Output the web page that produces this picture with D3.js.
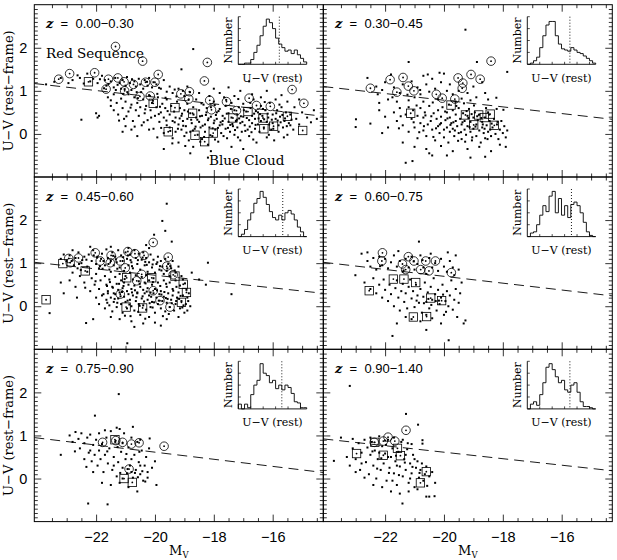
<!DOCTYPE html>
<html>
<head>
<meta charset="utf-8">
<script src="https://cdn.jsdelivr.net/npm/d3@7"></script>
<style>
body { margin: 0; background: #fff; }
text { fill: #000; }
</style>
</head>
<body>
<div id="chart"></div>
<script>
var zLabels = ["0.00\u22120.30", "0.30\u22120.45", "0.45\u22120.60", "0.60\u22120.75", "0.75\u22120.90", "0.90\u22121.40"];
var xTicks = [-22, -20, -18, -16];
var yTicks = [0, 1, 2];

// colour cut (dashed line) at the bright and faint ends of the plot
var cutBright = [1.17, 1.10, 1.02, 1.02, 0.95, 0.92];
var cutFaint = [0.41, 0.34, 0.30, 0.24, 0.14, 0.18];

// inset histograms, counts per bin, and the bin of the dotted divide
var hist1 = [0, 0, 1, 1, 4, 10, 16, 24, 32, 38, 35, 30, 22, 17, 14, 11, 12, 9, 12, 8, 5, 2];
var hist2 = [0, 1, 3, 6, 14, 24, 33, 36, 36, 24, 17, 13, 12, 11, 14, 12, 10, 9, 7, 5, 3, 1];
var hist3 = [0, 2, 6, 14, 20, 28, 32, 38, 33, 27, 21, 16, 14, 18, 14, 20, 22, 19, 14, 8, 4, 0];
var hist4 = [0, 3, 4, 10, 18, 26, 21, 34, 38, 20, 32, 18, 26, 16, 27, 29, 26, 20, 12, 4, 1, 0];
var hist5 = [4, 0, 4, 1, 12, 20, 24, 38, 30, 28, 22, 24, 17, 20, 16, 20, 18, 13, 6, 5, 1, 1];
var hist6 = [0, 4, 6, 3, 12, 22, 35, 38, 33, 27, 22, 24, 16, 14, 20, 22, 14, 6, 2, 2, 1, 0];
var histCut = [13.2, 13.7, 14.3, 14.2, 14.0, 13.7];

// galaxies [M_V, U-V]
var dots1 = [[-23.7,1.15],[-23.2,1.3],[-22.8,1.25],[-22.55,1.3],[-22.3,1.4],[-22.2,1.22],[-22.1,1.28],[-21.95,1.18],[-21.8,1.35],[-21.7,1.25],[-21.65,1.12],[-21.5,1.22],[-21.4,1.08],[-21.35,1.3],[-21.2,1.18],[-21.15,1.05],[-21.1,1.25],[-21.0,1.12],[-20.95,1.32],[-20.85,1.18],[-20.8,1.02],[-20.7,1.22],[-20.65,1.1],[-20.55,1.28],[-20.5,1.15],[-20.4,1.05],[-20.35,1.25],[-20.25,1.12],[-20.2,1.3],[-20.1,1.08],[-20.05,1.2],[-19.95,1.15],[-19.8,1.05],[-19.7,1.25],[-19.6,0.98],[-19.5,1.1],[-19.4,0.95],[-19.2,1.05],[-19.05,1.0],[-18.9,1.1],
[-22.5,0.33],[-22.0,0.48],[-21.95,0.38],[-21.9,0.42],[-18.7,1.97],[-16.8,1.22],[-19.1,1.5],[-17.5,1.08],[-16.2,1.0],[-15.7,0.9],[-14.6,0.55],[-14.5,0.35],[-15.4,0.2],[-21.0,0.18],[-21.4,0.55],[-21.5,0.78],
[-21.6,0.85],[-21.5,0.65],[-21.4,0.92],[-21.3,0.72],[-21.25,0.45],[-21.15,0.82],[-21.1,0.6],[-21.05,0.35],[-21.0,0.75],[-20.9,0.92],[-20.9,0.52],[-20.8,0.68],[-20.75,0.3],[-20.7,0.85],[-20.65,0.55],[-20.6,0.72],[-20.55,0.42],[-20.5,0.62],[-20.45,0.2],[-20.4,0.8],[-20.35,0.48],[-20.3,0.65],[-20.25,0.32],[-20.2,0.9],[-20.15,0.55],[-20.1,0.72],[-20.05,0.12],[-20.0,0.42],[-19.95,0.62],[-19.9,0.85],[-19.85,0.28],[-19.8,0.5],[-19.75,0.7],[-19.7,0.38],[-19.7,0.02],[-19.65,0.6],[-19.6,0.8],[-19.6,0.2],[-20.8,0.1],[-21.1,0.05],[-20.2,0.1],[-20.6,-0.05],
[-19.5,0.45],[-19.5,0.15],[-19.45,0.65],[-19.4,0.3],[-19.4,-0.1],[-19.35,0.52],[-19.3,0.05],[-19.3,0.38],[-19.25,0.75],[-19.2,0.22],[-19.2,-0.2],[-19.15,0.6],[-19.1,0.1],[-19.1,0.42],[-19.05,0.3],[-19.0,-0.05],[-19.0,0.55],[-18.95,0.18],[-18.9,0.7],[-18.9,0.35],[-18.85,-0.15],[-18.8,0.05],[-18.8,0.48],[-18.75,0.25],[-18.7,0.62],[-18.7,-0.3],[-18.65,0.12],[-18.6,0.38],[-18.6,0.8],[-18.55,-0.02],[-18.5,0.28],[-18.5,0.55],[-18.45,0.15],[-18.4,0.42],[-18.4,-0.12],[-18.35,0.68],[-18.3,0.22],[-18.3,0.05],[-18.25,0.5],[-18.2,0.32],[-18.2,-0.25],[-18.15,0.15],[-18.1,0.62],[-18.1,0.4],[-18.05,-0.05],[-18.0,0.25],[-18.0,0.75],[-17.95,0.1],[-17.9,0.5],[-17.9,0.35],[-17.85,-0.18],[-17.8,0.2],[-17.8,0.58],[-17.75,0.02],[-17.7,0.42],[-17.7,0.3],[-17.65,0.85],[-17.6,0.12],[-17.6,0.65],[-17.55,-0.1],[-17.5,0.28],[-17.5,0.48],[-17.45,0.05],[-17.4,0.38],[-17.4,0.72],[-17.35,0.18],[-17.3,-0.02],[-17.3,0.55],[-17.25,0.3],[-17.2,0.15],[-17.2,0.45],[-17.15,0.62],[-17.1,-0.15],[-17.1,0.25],[-17.05,0.05],[-17.0,0.4],[-17.0,0.7],[-16.95,0.2],[-16.9,0.52],[-16.85,0.1],[-16.8,0.32],[-16.8,-0.05],[-16.75,0.6],[-16.7,0.25],[-16.7,0.42],[-16.65,0.8],[-16.6,0.12],[-16.6,0.35],[-16.55,-0.2],[-16.5,0.5],[-16.5,0.22],[-16.45,0.05],[-16.4,0.65],[-16.4,0.3],[-16.35,0.42],[-16.3,0.15],[-16.25,0.55],[-16.2,-0.08],[-16.2,0.28],[-16.15,0.38],[-16.1,0.72],[-16.05,0.1],[-16.0,0.45],[-16.0,0.25],[-15.95,-0.15],[-15.9,0.35],[-15.85,0.55],[-15.8,0.05],[-15.8,0.2],[-15.75,0.4],[-15.7,0.62],[-15.65,0.15],[-15.6,0.3],[-15.55,0.5],[-15.5,-0.02],[-15.45,0.25],[-15.4,0.45],[-15.3,0.1],[-15.2,0.35],[-15.1,0.22],[-15.0,0.5],[-18.8,-0.45],[-18.1,-0.4],[-17.4,-0.3],[-19.7,-0.35],[-18.2,-0.55],[-17.0,-0.35],
[-18.5,0.95],[-18.15,0.88],[-17.8,0.95],[-17.3,0.88],[-17.1,1.0],[-16.7,0.92],[-16.4,0.85],[-15.9,0.8],[-15.5,0.75],[-15.1,0.8],[-19.0,0.88],[-18.0,1.05],
[-19.33,0.27],[-19.08,0.47],[-18.93,0.03],[-18.77,0.33],[-18.62,0.17],[-18.47,0.41],[-18.33,-0.07],[-18.18,0.36],[-18.04,0.13],[-17.93,0.44],[-17.77,0.27],[-17.63,0.36],[-17.52,0.14],[-17.37,0.23],[-17.22,0.33],[-17.08,0.41],[-16.93,0.07],[-16.78,0.17],[-16.63,0.47],[-16.48,0.36],[-16.33,0.58],[-16.17,0.47],[-16.03,0.33],[-15.88,0.48],[-15.73,0.27],[-15.58,0.36],[-19.57,0.53],[-19.83,0.63],[-20.07,0.77],[-20.33,0.57],[-20.58,0.83],[-20.83,0.61],[-21.07,0.93],[-21.33,1.02],[-21.58,1.16],[-20.94,0.97],[-20.47,0.97],[-19.92,0.93],[-19.64,0.84],[-19.27,0.87],[-18.86,0.79],[-18.42,0.71],[-17.97,0.67],[-17.58,0.79],[-17.17,0.81],[-16.76,0.72],[-16.27,0.74],[-15.77,0.68],[-15.26,0.62],[-14.83,0.38],[-14.7,0.27],[-19.16,0.36],[-18.69,0.45],[-18.24,0.6],[-17.84,0.53],[-17.42,0.58],[-16.98,0.55],[-16.57,0.53],
[-19.61,0.31],[-19.48,0.07],[-19.22,0.12],[-19.04,0.19],[-18.88,0.52],[-18.71,0.08],[-18.56,0.33],[-18.38,0.19],[-18.27,0.44],[-18.12,-0.03],[-17.98,0.31],[-17.86,0.14],[-17.71,0.22],[-17.56,0.47],[-17.44,0.21],[-17.28,0.09],[-17.14,0.36],[-17.03,0.28],[-16.88,0.37],[-16.72,0.04],[-16.58,0.21],[-16.43,0.46],[-16.29,0.34],[-16.12,0.22],[-15.98,0.12],[-15.83,0.31],[-15.67,0.44],[-15.52,0.18],[-15.36,0.33],[-19.79,0.14],[-19.87,0.46],[-20.13,0.38],[-20.38,0.27],[-20.69,0.17],[-20.97,0.41],[-21.22,0.31],[-19.92,-0.08],[-19.41,-0.22],[-18.97,-0.28],[-18.46,-0.18],[-17.96,-0.13],[-17.67,-0.05],[-17.18,-0.08],[-16.66,-0.13],[-16.13,-0.02],[-15.62,-0.08],[-22.63,1.36],[-22.42,1.17],[-21.87,1.27],[-21.27,1.14],[-20.78,1.27],[-20.27,1.21],[-19.86,1.07],[-19.33,1.03],[-18.81,0.97],[-20.62,0.97],[-21.03,1.04],[-21.73,1.06],[-23.42,1.21],[-22.94,1.18]];

var dots2 = [[-19.27,2.42],[-21.2,1.67],[-22.99,0.34],[-23.0,0.16],[-22.5,0.24],[-20.4,-0.5],[-21.3,-0.67],[-21.07,-0.63],[-18.88,1.67],[-17.85,1.44],[-18.6,-0.53],[-17.9,-0.3],[-22.6,1.3],[-21.8,1.38],[-22.25,0.92],[-21.75,0.85],[-20.0,1.4],[-20.15,1.42],[-20.7,1.35],[-20.55,1.38],
[-22.3,1.1],[-22.1,1.02],[-22.0,1.2],[-21.7,1.08],[-21.5,0.95],[-21.4,1.15],[-21.1,1.22],[-20.9,1.08],[-20.8,0.92],[-20.6,1.15],[-20.5,0.98],[-20.4,1.28],[-20.3,1.05],[-20.1,1.2],[-19.9,1.0],[-19.8,1.15],[-19.7,0.92],[-19.5,1.0],[-19.2,0.95],[-19.0,1.1],[-18.9,0.85],[-18.7,1.2],[-18.6,0.95],[-18.5,0.8],[-19.1,0.78],[-19.4,0.82],[-19.6,0.75],[-20.2,0.8],[-20.7,0.75],[-21.0,0.85],[-21.2,0.78],[-21.6,0.75],[-21.9,0.8],[-22.2,0.72],
[-21.7,0.5],[-21.6,0.3],[-21.5,0.6],[-21.4,0.2],[-21.3,0.45],[-21.2,0.62],[-21.2,0.05],[-21.1,0.35],[-21.05,0.55],[-21.0,0.15],[-20.9,0.42],[-20.9,-0.1],[-20.8,0.25],[-20.8,0.6],[-20.7,0.08],[-20.7,0.38],[-20.65,0.5],[-20.6,-0.05],[-20.55,0.22],[-20.5,0.65],[-20.45,0.3],[-20.4,0.1],[-20.35,0.48],[-20.3,-0.15],[-20.25,0.35],[-20.2,0.18],[-20.2,0.55],[-20.15,0.02],[-20.1,0.4],[-20.1,0.25],[-20.05,0.62],[-20.0,0.1],[-20.0,-0.08],[-19.95,0.32],[-19.9,0.5],[-19.9,0.15],[-19.85,-0.2],[-19.8,0.05],[-19.8,0.38],[-19.75,0.25],[-19.7,0.55],[-19.7,0.12],[-19.65,-0.05],[-19.6,0.3],[-19.6,0.45],[-19.55,0.18],[-19.5,0.02],[-19.5,0.6],[-19.45,0.35],[-19.4,-0.12],[-19.4,0.22],[-19.35,0.48],[-19.3,0.1],[-19.3,0.3],[-19.25,-0.02],[-19.2,0.42],[-19.2,0.18],[-19.15,0.58],[-19.1,0.05],[-19.1,0.28],[-19.05,-0.15],[-19.0,0.38],[-19.0,0.12],[-18.95,0.5],[-18.9,0.22],[-18.9,-0.05],[-18.85,0.32],[-18.8,0.08],[-18.8,0.45],[-18.75,-0.2],[-18.7,0.15],[-18.7,0.28],[-18.65,0.02],[-18.6,0.38],[-18.6,-0.1],[-18.55,0.2],[-18.5,0.5],[-18.5,0.05],[-18.45,0.3],[-18.4,-0.05],[-18.35,0.15],[-18.3,0.35],[-18.25,0.0],[-18.2,0.22],[-18.15,-0.12],[-18.1,0.1],[-18.05,0.3],[-18.0,0.02],[-17.95,0.18],[-17.9,-0.08],[-17.85,0.08],[-22.0,0.4],[-22.2,0.55],[-21.9,0.15],[-22.1,0.02],[-21.0,-0.3],[-20.6,-0.35],[-20.1,-0.28],[-19.7,-0.4],[-19.2,-0.35],[-18.8,-0.3],[-18.4,-0.4],[-18.1,-0.25],[-19.9,-0.5],[-19.1,-0.55],[-20.5,-0.45],[-21.4,-0.2],
[-19.63,0.08],[-19.37,0.27],[-19.13,0.16],[-18.87,0.41],[-18.62,0.12],[-18.38,0.24],[-19.78,0.21],[-19.04,-0.08],[-18.73,0.37],[-19.52,-0.16],[-20.27,0.13],[-20.63,0.43],[-21.03,0.27],[-21.53,0.13],[-19.96,0.52],[-19.23,0.53],[-18.46,0.45],[-18.21,0.58],[-20.38,0.73],[-19.83,0.68],[-19.32,0.71],[-18.98,0.66],[-21.24,0.91],[-20.81,1.02],[-18.22,0.84],[-17.98,0.56],
[-19.68,0.27],[-19.42,0.04],[-19.17,0.37],[-18.93,0.17],[-18.68,0.22],[-18.43,0.1],[-18.18,0.28],[-19.88,0.36],[-20.14,0.22],[-20.43,0.41],[-20.68,0.18],[-19.58,0.65],[-19.06,0.46],[-18.57,0.6],[-20.84,0.04],[-20.36,-0.07],[-19.28,-0.18],[-18.52,-0.12],[-21.47,0.41],[-20.93,0.66]];

var dots3 = [[-19.6,2.38],[-19.75,1.98],[-20.03,1.66],[-19.43,1.5],[-18.2,1.01],[-17.4,0.28],[-18.27,0.5],[-23.58,-0.16],[-22.34,-0.39],[-20.94,-0.86],[-19.65,1.75],[-20.3,1.42],[-18.75,0.78],[-18.5,0.62],
[-23.1,1.2],[-23.0,1.05],[-22.9,1.18],[-22.75,0.95],[-22.7,1.12],[-22.6,1.25],[-22.5,1.0],[-22.4,1.15],[-22.3,0.92],[-22.25,1.2],[-22.15,1.05],[-22.1,1.3],[-22.0,0.98],[-21.95,1.15],[-21.9,0.88],[-21.8,1.22],[-21.75,1.05],[-21.7,0.95],[-21.65,1.32],[-21.6,1.12],[-21.55,0.85],[-21.5,1.05],[-21.45,1.25],[-21.4,0.95],[-21.35,1.15],[-21.3,1.02],[-21.25,1.3],[-21.2,0.9],[-21.15,1.18],[-21.1,1.05],[-21.05,0.82],[-21.0,1.25],[-20.95,1.1],[-20.9,0.95],[-20.85,1.2],[-20.8,1.02],[-20.75,0.88],[-20.7,1.3],[-20.65,1.12],[-20.6,0.98],[-20.55,1.22],[-20.5,0.85],[-20.45,1.08],[-20.4,1.25],[-20.35,0.95],[-20.3,1.12],[-20.25,0.8],[-20.2,1.02],[-20.15,1.2],[-20.1,0.9],[-20.05,1.08],[-20.0,0.78],[-19.95,0.98],[-19.9,1.15],[-19.85,0.85],[-19.8,1.05],[-19.75,0.92],[-19.7,0.75],[-19.65,1.1],[-19.6,0.82],[-19.55,0.98],[-19.5,0.7],[-19.45,0.88],[-19.4,1.05],[-19.3,0.78],[-19.2,0.92],[-19.1,0.7],[-22.2,1.38],[-21.5,1.38],[-20.9,1.35],[-20.2,1.35],[-22.8,1.3],[-23.2,1.1],
[-22.9,0.6],[-22.8,0.78],[-22.7,0.45],[-22.55,0.7],[-22.4,0.55],[-22.3,0.8],[-22.2,0.35],[-22.15,0.65],[-22.05,0.5],[-22.0,0.75],[-21.9,0.4],[-21.85,0.6],[-21.75,0.28],[-21.7,0.7],[-21.65,0.5],[-21.6,0.35],[-21.55,0.62],[-21.5,0.8],[-21.45,0.45],[-21.4,0.3],[-21.35,0.68],[-21.3,0.52],[-21.25,0.38],[-21.2,0.75],[-21.15,0.6],[-21.1,0.42],[-21.05,0.55],[-21.0,0.7],[-20.95,0.35],[-20.9,0.5],[-20.85,0.78],[-20.8,0.4],[-20.75,0.62],[-20.7,0.48],[-20.65,0.72],[-20.6,0.3],[-20.55,0.58],[-20.5,0.45],[-20.45,0.68],[-20.4,0.38],[-20.35,0.55],[-20.3,0.72],[-20.25,0.42],[-20.2,0.6],[-20.15,0.32],[-20.1,0.5],[-20.05,0.65],[-20.0,0.4],[-19.9,0.55],[-19.8,0.35],[-19.7,0.6],[-19.6,0.45],[-19.5,0.55],[-19.4,0.4],[-19.3,0.6],[-19.15,0.48],[-19.05,0.62],[-23.2,0.55],[-23.1,0.3],[-22.65,0.2],
[-22.0,0.2],[-21.9,0.05],[-21.8,0.25],[-21.7,-0.05],[-21.65,0.15],[-21.6,0.3],[-21.55,0.02],[-21.5,0.2],[-21.45,-0.12],[-21.4,0.1],[-21.35,0.28],[-21.3,-0.02],[-21.25,0.18],[-21.2,0.32],[-21.15,0.05],[-21.1,-0.15],[-21.05,0.22],[-21.0,0.1],[-20.95,-0.05],[-20.9,0.28],[-20.85,0.15],[-20.8,0.0],[-20.75,0.25],[-20.7,-0.1],[-20.65,0.12],[-20.6,0.32],[-20.55,0.05],[-20.5,-0.2],[-20.45,0.18],[-20.4,0.02],[-20.35,0.3],[-20.3,-0.08],[-20.25,0.15],[-20.2,0.25],[-20.15,-0.02],[-20.1,0.1],[-20.05,0.3],[-20.0,-0.15],[-19.95,0.2],[-19.9,0.05],[-19.85,0.28],[-19.8,-0.05],[-19.75,0.12],[-19.7,0.22],[-19.65,-0.12],[-19.6,0.08],[-19.55,0.3],[-19.5,-0.02],[-19.45,0.15],[-19.4,0.25],[-19.35,-0.1],[-19.3,0.05],[-19.25,0.2],[-19.2,0.32],[-19.15,-0.05],[-19.1,0.12],[-19.05,0.25],[-19.0,-0.15],[-18.95,0.05],[-18.9,0.2],[-18.85,0.3],[-18.8,0.0],[-21.2,-0.3],[-20.8,-0.35],[-20.4,-0.4],[-20.0,-0.38],[-19.6,-0.3],[-19.2,-0.25],[-20.7,-0.48],[-19.8,-0.45],[-21.5,-0.25],[-20.2,-0.25],[-22.1,-0.3],[-18.9,-0.1],
[-21.43,0.43],[-21.17,0.23],[-20.93,0.13],[-20.68,0.37],[-20.42,0.23],[-20.18,0.07],[-19.93,0.37],[-19.68,0.33],[-19.43,0.07],[-19.18,0.17],[-18.93,0.38],[-20.57,-0.13],[-20.08,-0.03],[-19.57,0.17],[-19.07,-0.03],[-21.07,0.47],[-20.32,0.53],[-19.82,0.47],[-21.78,0.87],[-21.28,0.87],[-20.78,0.93],[-20.28,0.96],[-19.78,0.83],[-22.47,1.07],[-21.97,1.13],[-21.42,1.17],[-20.92,1.18],[-20.42,1.13],[-19.92,1.02],[-19.48,0.93],[-22.63,0.88],[-21.87,0.93],[-19.27,0.45],[-18.98,0.53],[-21.63,0.47],[-22.37,0.43],
[-21.62,0.08],[-21.37,0.17],[-21.12,0.33],[-20.87,0.04],[-20.63,0.21],[-20.37,0.11],[-20.13,0.22],[-19.87,0.13],[-19.63,0.19],[-19.38,0.36],[-19.13,0.24],[-18.87,0.12],[-21.28,0.08],[-20.78,0.32],[-20.28,0.34],[-19.78,0.27],[-19.28,0.12],[-21.02,-0.22],[-20.52,0.01],[-20.03,0.09],[-19.53,-0.18],[-19.03,0.02],[-20.83,-0.23],[-20.33,-0.29],[-19.73,-0.23],[-22.83,1.05],[-22.58,0.98],[-22.33,1.08],[-22.08,1.18],[-21.83,1.1],[-21.58,0.98],[-21.33,1.09],[-21.08,1.14],[-20.83,1.07],[-20.58,1.07],[-20.33,1.03],[-20.08,0.97],[-19.83,0.93],[-19.58,0.88],[-19.33,0.83],[-22.02,0.58],[-21.53,0.56],[-21.03,0.63],[-20.52,0.52],[-20.07,0.56],[-19.62,0.52],[-22.52,0.84],[-21.22,0.52]];

var dots4 = [[-20.85,1.5],[-21.75,-0.69],[-19.84,-0.79],[-19.33,-0.4],[-19.27,-0.33],[-23.01,0.72],[-19.87,1.25],[-22.8,1.22],[-22.6,1.25],[-21.6,-0.4],[-20.6,-0.55],
[-22.6,1.05],[-22.5,0.92],[-22.4,1.12],[-22.3,0.85],[-22.2,1.15],[-22.1,0.95],[-22.0,1.1],[-21.9,0.88],[-21.8,1.02],[-21.7,1.18],[-21.6,0.92],[-21.5,1.05],[-21.4,0.8],[-21.3,1.1],[-21.2,0.9],[-21.1,1.15],[-21.0,0.85],[-20.9,0.98],[-20.8,1.18],[-20.7,0.9],[-20.6,0.75],[-20.5,1.12],[-20.4,0.9],[-20.3,1.0],[-20.2,0.82],[-20.1,1.1],[-20.0,0.92],[-19.9,0.8],[-19.8,1.05],[-19.7,0.9],[-19.65,0.72],[-19.6,1.18],[-21.55,1.28],[-20.45,1.22],[-19.5,0.85],
[-22.7,0.55],[-22.5,0.4],[-22.4,0.65],[-22.3,0.3],[-22.2,0.5],[-22.1,0.2],[-22.05,0.62],[-22.0,0.38],[-21.9,0.12],[-21.85,0.5],[-21.8,0.28],[-21.7,0.0],[-21.65,0.42],[-21.6,0.6],[-21.55,0.2],[-21.5,-0.1],[-21.45,0.35],[-21.4,0.52],[-21.35,0.1],[-21.3,0.3],[-21.25,-0.05],[-21.2,0.45],[-21.15,0.62],[-21.1,0.18],[-21.05,0.35],[-21.0,-0.02],[-20.95,0.5],[-20.9,0.25],[-20.85,0.08],[-20.8,0.4],[-20.75,-0.15],[-20.7,0.22],[-20.65,0.55],[-20.6,0.1],[-20.55,0.32],[-20.5,-0.05],[-20.45,0.45],[-20.4,0.15],[-20.35,0.65],[-20.3,0.28],[-20.25,-0.1],[-20.2,0.38],[-20.15,0.05],[-20.1,0.2],[-20.05,0.5],[-20.0,-0.2],[-19.95,0.12],[-19.9,0.35],[-19.85,0.0],[-19.8,0.25],[-19.75,0.6],[-19.7,-0.08],[-19.65,0.15],[-19.6,0.4],[-19.55,-0.25],[-19.5,0.08],[-19.45,0.3],[-19.4,0.55],[-21.1,-0.3],[-20.8,-0.35],[-20.4,-0.28],[-20.1,-0.4],[-21.3,-0.25],[-20.6,-0.2],
[-20.93,0.13],[-20.68,0.07],[-20.43,0.03],[-20.17,0.13],[-19.93,-0.13],[-20.53,0.17],[-20.28,0.12],[-20.03,0.27],[-21.37,0.83],[-21.03,1.04],[-20.73,1.07],[-22.17,0.93]];

var dots5 = [[-21.23,1.96],[-22.04,1.46],[-23.2,0.55],[-22.27,-0.58],[-21.61,-0.6],[-19.95,-0.15],[-20.18,0.93],
[-22.9,1.0],[-22.8,0.85],[-22.7,1.08],[-22.6,0.92],[-22.55,0.7],[-22.5,1.05],[-22.4,0.82],[-22.3,0.95],[-22.25,0.6],[-22.2,1.02],[-22.15,0.4],[-22.1,0.78],[-22.05,0.55],[-22.0,0.9],[-21.95,0.3],[-21.9,0.65],[-21.85,0.45],[-21.8,0.8],[-21.75,0.15],[-21.7,0.55],[-21.65,0.95],[-21.6,0.35],[-21.55,0.7],[-21.5,1.1],[-21.45,0.2],[-21.4,0.5],[-21.35,0.85],[-21.3,0.05],[-21.25,0.38],[-21.2,1.15],[-21.15,0.62],[-21.1,0.25],[-21.05,1.05],[-21.0,0.45],[-20.95,0.12],[-20.9,0.72],[-20.85,0.3],[-20.8,0.95],[-20.75,0.02],[-20.7,0.55],[-20.65,0.2],[-20.6,0.85],[-20.55,0.38],[-20.5,0.1],[-20.45,0.65],[-20.4,-0.05],[-20.35,0.3],[-20.3,0.5],[-20.25,0.15],[-20.2,0.7],[-20.1,0.25],[-20.0,0.4],[-22.4,0.45],[-22.1,0.15],[-21.8,-0.1],[-21.5,-0.15],[-21.2,-0.1],[-20.9,-0.2],[-20.6,-0.3],[-21.1,0.0],[-21.4,0.3],[-20.8,0.15],[-20.5,0.3],[-21.7,1.12],[-21.3,1.18],[-20.75,1.2],[-22.2,0.65],[-21.9,1.05],[-21.1,0.82],[-20.5,0.9],[-20.25,0.02],[-20.8,0.45],
[-20.93,0.22],[-20.68,0.13],[-20.43,0.17],[-21.18,0.13],[-20.58,0.03],[-20.33,-0.07],[-21.62,0.63],[-21.27,0.73],[-20.97,0.57],[-20.53,0.62],[-22.72,0.63],[-22.33,0.27]];

var dots6 = [[-23.2,2.15],[-21.29,1.5],[-20.88,1.25],[-20.73,0.89],[-20.73,0.81],[-23.74,0.41],[-21.41,-0.58],[-20.32,-0.41],[-20.5,-0.42],[-20.6,-0.42],[-23.5,0.95],[-23.1,0.92],
[-23.3,0.5],[-23.2,0.3],[-23.1,0.7],[-23.0,0.45],[-22.9,0.82],[-22.85,0.2],[-22.8,0.6],[-22.7,0.9],[-22.65,0.38],[-22.6,0.72],[-22.55,0.1],[-22.5,0.55],[-22.45,0.85],[-22.4,0.3],[-22.35,0.65],[-22.3,0.0],[-22.25,0.45],[-22.2,0.98],[-22.15,0.2],[-22.1,0.75],[-22.05,0.35],[-22.0,0.58],[-21.95,-0.05],[-21.9,0.9],[-21.85,0.25],[-21.8,0.5],[-21.75,0.7],[-21.7,0.12],[-21.65,0.4],[-21.6,-0.15],[-21.55,0.62],[-21.5,0.28],[-21.45,0.85],[-21.4,0.05],[-21.35,0.45],[-21.3,0.2],[-21.25,0.68],[-21.2,-0.1],[-21.15,0.35],[-21.1,0.12],[-21.05,0.55],[-21.0,-0.2],[-20.95,0.25],[-20.9,0.4],[-20.85,0.02],[-20.8,0.2],[-20.75,0.35],[-20.7,-0.05],[-20.65,0.1],[-20.6,0.28],[-20.5,0.05],[-20.4,0.15],[-20.3,-0.1],[-23.0,0.15],[-22.7,0.02],[-22.4,-0.15],[-22.1,-0.2],[-21.8,-0.3],[-21.5,-0.35],[-21.2,-0.3],[-20.9,-0.25],[-22.2,0.6],[-22.0,0.88],[-22.5,0.95],[-21.7,0.95],[-21.4,0.9],[-21.1,0.8],[-21.9,0.5],[-21.6,0.3],[-21.3,0.55],[-21.0,0.45],[-22.8,0.35],[-21.75,-0.05],[-21.15,0.0],
[-22.43,0.63],[-22.13,0.47],[-21.87,0.13],[-21.63,0.53],[-21.33,0.37],[-21.07,0.27],[-20.83,0.13],[-21.53,0.08],[-22.27,0.23],[-21.97,0.78],[-21.23,0.82],[-20.57,-0.17]];

// circled galaxies
var circ1 = [[-23.27,1.27],[-22.90,1.40],[-22.05,1.42],[-21.66,1.04],[-21.58,1.27],[-21.26,1.30],[-21.05,1.21],[-21.03,1.00],[-20.73,1.15],[-20.51,0.87],[-20.32,1.20],[-20.00,1.20],[-19.89,1.38],[-20.16,0.88],[-21.34,2.03],[-20.42,1.69],[-18.32,1.23],[-18.22,1.66],[-19.12,0.93],[-18.83,0.98],[-18.85,0.81],[-18.14,0.78],[-17.57,0.75],[-17.23,0.54],[-16.80,0.83],[-16.55,0.66],[-16.08,0.64],[-15.34,1.03],[-14.94,0.71],[-18.08,0.56]];
var circ2 = [[-22.50,1.06],[-21.83,1.26],[-21.39,1.31],[-21.60,0.97],[-21.21,1.11],[-21.02,1.00],[-20.26,0.92],[-20.06,0.83],[-19.63,0.81],[-19.52,1.30],[-19.36,1.18],[-19.38,1.06],[-19.08,1.38],[-18.77,1.27],[-18.40,1.69]];
var circ3 = [[-22.93,1.11],[-22.60,1.12],[-22.03,1.24],[-21.49,1.18],[-20.92,1.27],[-20.68,1.22],[-20.37,1.18],[-20.06,1.48],[-19.55,1.14],[-19.60,0.93],[-20.45,0.74],[-20.62,0.59],[-19.38,0.73],[-21.52,1.01],[-21.18,1.05],[-21.86,1.05],[-21.01,0.89],[-20.06,0.36],[-19.49,-0.02],[-19.83,0.13],[-21.18,0.28],[-22.88,1.01]];
var circ4 = [[-22.09,1.24],[-21.21,1.15],[-21.02,1.05],[-21.41,0.98],[-20.62,1.05],[-20.29,1.05],[-20.51,0.82],[-19.75,0.78],[-20.79,0.85],[-21.30,0.85],[-22.11,1.05]];
var circ5 = [[-21.78,0.84],[-21.33,0.88],[-21.10,0.84],[-20.80,0.80],[-20.54,0.83],[-19.69,0.75],[-20.88,0.22]];
var circ6 = [[-21.90,0.96],[-21.29,1.12],[-21.67,0.87],[-22.06,0.87],[-22.37,0.84]];

// boxed galaxies
var sq1 = [[-22.26,1.21],[-20.06,0.71],[-19.32,0.61],[-19.55,0.05],[-18.72,0.48],[-18.64,-0.03],[-18.31,-0.18],[-18.02,0.02],[-17.35,0.37],[-16.84,0.52],[-16.30,0.12],[-15.97,0.18],[-15.50,0.41],[-14.98,0.08],[-16.33,0.37]];
var sq2 = [[-21.13,0.48],[-19.76,0.67],[-19.27,0.44],[-18.99,0.21],[-18.82,0.44],[-18.63,0.38],[-18.43,0.46],[-18.29,0.20]];
var sq3 = [[-23.70,0.15],[-23.13,0.99],[-22.37,0.82],[-18.93,0.32],[-19.04,0.51],[-19.32,0.70],[-19.10,0.09],[-20.98,-0.02],[-20.42,-0.04],[-20.11,0.66],[-20.96,0.66]];
var sq4 = [[-21.72,0.63],[-21.36,0.63],[-20.96,0.55],[-22.54,0.36],[-20.45,0.19],[-20.08,0.13],[-21.04,-0.25],[-20.59,-0.24]];
var sq5 = [[-21.05,0.00],[-20.77,-0.09],[-21.36,0.90]];
var sq6 = [[-22.97,0.58],[-22.06,0.54],[-21.48,0.53],[-21.58,0.70],[-20.60,0.16],[-20.80,-0.10],[-22.35,0.84]];

var allDots = [dots1, dots2, dots3, dots4, dots5, dots6];
var allCirc = [circ1, circ2, circ3, circ4, circ5, circ6];
var allSq = [sq1, sq2, sq3, sq4, sq5, sq6];
var allHist = [hist1, hist2, hist3, hist4, hist5, hist6];

var W = 617, H = 560;
var margin = {left: 34.3, top: 4.7};
var colW = 289, rowH = 172.3;
var serif = "'DejaVu Serif', serif";
var sans = "'Liberation Sans', Arial, sans-serif";

var x = d3.scaleLinear().domain([-24.1, -14.28]).range([0, colW]);
var y = d3.scaleLinear().domain([-1, 3]).range([rowH, 0]);

var inset = {x: 204, y: 12, w: 68.4, h: 47.6};
var hx = d3.scaleLinear().domain([0, 22]).range([0, inset.w]);
var hy = d3.scaleLinear().domain([0, 40]).range([inset.h, 0]);

var svg = d3.select("#chart").append("svg")
    .attr("width", W).attr("height", H)
    .style("display", "block");

svg.append("defs").append("clipPath").attr("id", "clip")
    .append("rect").attr("width", colW).attr("height", rowH);

var xMinor = d3.range(-24, -14.2, 0.5).filter(function(v) { return Math.abs(v % 2) > 0.01; });
var yMinor = d3.range(-0.9, 2.95, 0.1).filter(function(v) { return Math.abs(v - Math.round(v)) > 0.01; });

zLabels.forEach(function(z, i) {
    var col = i % 2, row = Math.floor(i / 2);
    var g = svg.append("g")
        .attr("transform", "translate(" + (margin.left + col * colW) + "," + (margin.top + row * rowH) + ")");

    // inward ticks on all four sides
    function addAxis(axis, tx, ty, labels) {
        var a = g.append("g").attr("transform", "translate(" + tx + "," + ty + ")").call(axis);
        a.select(".domain").remove();
        a.selectAll("line").attr("stroke", "#000").attr("stroke-width", 0.8);
        if (!labels) a.selectAll("text").remove();
        return a;
    }
    var bx = addAxis(d3.axisBottom(x).tickValues(xTicks).tickSizeInner(-7).tickSizeOuter(0).tickPadding(10)
        .tickFormat(function(d) { return "\u2212" + Math.abs(d); }), 0, rowH, row === 2);
    bx.selectAll("text").attr("font-family", sans).attr("font-size", 14.5);
    addAxis(d3.axisBottom(x).tickValues(xMinor).tickSizeInner(-3.5).tickSizeOuter(0).tickFormat(""), 0, rowH, false);
    addAxis(d3.axisTop(x).tickValues(xTicks).tickSizeInner(-7).tickSizeOuter(0), 0, 0, false);
    addAxis(d3.axisTop(x).tickValues(xMinor).tickSizeInner(-3.5).tickSizeOuter(0), 0, 0, false);
    var ly = addAxis(d3.axisLeft(y).tickValues(yTicks).tickSizeInner(-7).tickSizeOuter(0).tickPadding(7)
        .tickFormat(d3.format("d")), 0, 0, col === 0);
    ly.selectAll("text").attr("font-family", sans).attr("font-size", 14.5);
    addAxis(d3.axisLeft(y).tickValues(yMinor).tickSizeInner(-3.5).tickSizeOuter(0), 0, 0, false);
    addAxis(d3.axisRight(y).tickValues(yTicks).tickSizeInner(-7).tickSizeOuter(0), colW, 0, false);
    addAxis(d3.axisRight(y).tickValues(yMinor).tickSizeInner(-3.5).tickSizeOuter(0), colW, 0, false);

    g.append("rect").attr("width", colW).attr("height", rowH)
        .attr("fill", "none").attr("stroke", "#000").attr("stroke-width", 1);

    var plot = g.append("g").attr("clip-path", "url(#clip)");

    plot.append("line")
        .attr("x1", x.range()[0]).attr("y1", y(cutBright[i]))
        .attr("x2", x.range()[1]).attr("y2", y(cutFaint[i]))
        .attr("stroke", "#000").attr("stroke-width", 0.9)
        .attr("stroke-dasharray", "10,6");

    plot.selectAll(".dot").data(allDots[i]).enter().append("rect")
        .attr("class", "dot")
        .attr("x", function(d) { return x(d[0]) - 1; })
        .attr("y", function(d) { return y(d[1]) - 1; })
        .attr("width", 2).attr("height", 2)
        .attr("fill", "#000");

    var circ = plot.selectAll(".circ").data(allCirc[i]).enter().append("g")
        .attr("class", "circ")
        .attr("transform", function(d) { return "translate(" + x(d[0]) + "," + y(d[1]) + ")"; });
    circ.append("circle").attr("r", 4.3).attr("fill", "none").attr("stroke", "#000").attr("stroke-width", 0.8);
    circ.append("circle").attr("r", 0.9).attr("fill", "#000");

    var sq = plot.selectAll(".sq").data(allSq[i]).enter().append("g")
        .attr("class", "sq")
        .attr("transform", function(d) { return "translate(" + x(d[0]) + "," + y(d[1]) + ")"; });
    sq.append("rect").attr("x", -4.2).attr("y", -4.2).attr("width", 8.4).attr("height", 8.4)
        .attr("fill", "none").attr("stroke", "#000").attr("stroke-width", 0.8);
    sq.append("circle").attr("r", 0.9).attr("fill", "#000");

    // redshift label
    var zt = g.append("text").attr("x", 11.7).attr("y", 23.5)
        .attr("font-size", 13).style("white-space", "pre");
    zt.append("tspan").attr("font-family", serif).attr("font-style", "italic").attr("font-weight", "bold").text("z");
    zt.append("tspan").attr("font-family", sans).text("  =  " + z);

    // inset histogram
    var h = allHist[i];
    var ig = g.append("g").attr("transform", "translate(" + inset.x + "," + inset.y + ")");
    var pts = [[0, 0]];
    h.forEach(function(c, k) { pts.push([k, c]); });
    pts.push([h.length, 0]);
    ig.append("path")
        .attr("d", d3.line().x(function(d) { return hx(d[0]); }).y(function(d) { return hy(d[1]); })
            .curve(d3.curveStepAfter)(pts))
        .attr("fill", "none").attr("stroke", "#000").attr("stroke-width", 0.9);
    ig.append("line").attr("x1", 0).attr("x2", 0).attr("y1", 0).attr("y2", inset.h)
        .attr("stroke", "#000").attr("stroke-width", 0.9);
    ig.append("line").attr("x1", 0).attr("x2", inset.w).attr("y1", inset.h).attr("y2", inset.h)
        .attr("stroke", "#000").attr("stroke-width", 0.9);
    ig.selectAll(".ht").data([10, 20, 30, 40]).enter().append("line")
        .attr("x1", 0).attr("x2", 2.5).attr("y1", function(d) { return hy(d); }).attr("y2", function(d) { return hy(d); })
        .attr("stroke", "#000").attr("stroke-width", 0.7);
    ig.selectAll(".bt").data([4, 8, 12, 16, 20]).enter().append("line")
        .attr("x1", function(d) { return hx(d); }).attr("x2", function(d) { return hx(d); })
        .attr("y1", inset.h).attr("y2", inset.h - 2.5)
        .attr("stroke", "#000").attr("stroke-width", 0.7);
    ig.append("line")
        .attr("x1", hx(histCut[i])).attr("x2", hx(histCut[i]))
        .attr("y1", 0).attr("y2", inset.h)
        .attr("stroke", "#000").attr("stroke-width", 0.9).attr("stroke-dasharray", "1,2");
    ig.append("text")
        .attr("transform", "translate(-6," + (inset.h / 2) + ") rotate(-90)")
        .attr("text-anchor", "middle")
        .attr("font-family", serif).attr("font-size", 11)
        .text("Number");
    ig.append("text")
        .attr("x", inset.w / 2).attr("y", 65)
        .attr("text-anchor", "middle")
        .attr("font-family", serif).attr("font-size", 11)
        .text("U\u2212V (rest)");

    if (i === 0) {
        g.append("text").attr("x", 11.7).attr("y", 53.3)
            .attr("font-family", serif).attr("font-size", 13.5).text("Red Sequence");
        g.append("text").attr("x", 174.7).attr("y", 160.3)
            .attr("font-family", serif).attr("font-size", 13.5).text("Blue Cloud");
    }

    if (col === 0) {
        svg.append("text")
            .attr("transform", "translate(13," + (margin.top + row * rowH + rowH / 2) + ") rotate(-90)")
            .attr("text-anchor", "middle")
            .attr("font-family", serif).attr("font-size", 13)
            .text("U\u2212V (rest\u2212frame)");
    }

    if (row === 2) {
        var mt = svg.append("text")
            .attr("x", margin.left + col * colW + colW / 2)
            .attr("y", 555)
            .attr("text-anchor", "middle")
            .attr("font-family", serif).attr("font-size", 13);
        mt.append("tspan").text("M");
        mt.append("tspan").attr("font-size", 8.5).attr("dy", 3).text("V");
    }
});
</script>
</body>
</html>
